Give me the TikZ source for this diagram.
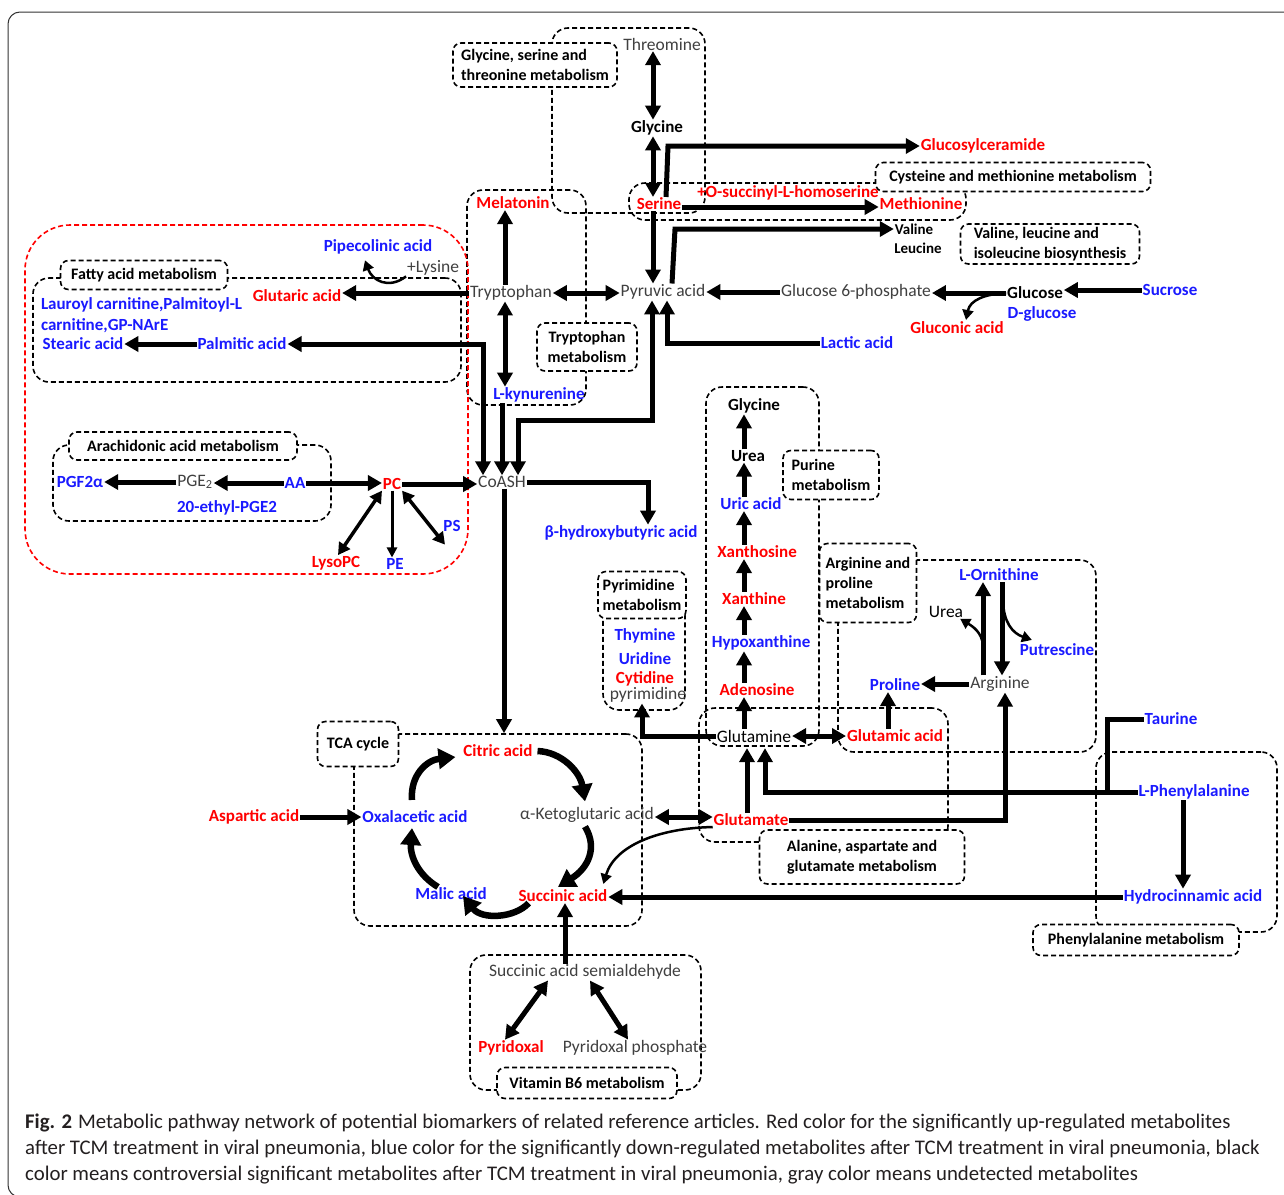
\documentclass[tikz,border=0pt]{standalone}
\usepackage{fontspec}
\setmainfont{Carlito}
\usetikzlibrary{arrows.meta,fit}
\definecolor{cred}{RGB}{255,0,0}
\definecolor{cblue}{RGB}{26,26,255}
\definecolor{cgray}{RGB}{64,64,64}
\definecolor{ccap}{RGB}{35,31,32}
\newcommand{\fsz}[2]{\fontsize{#1}{#2}\selectfont}
\tikzset{
  base/.style={inner sep=1pt, outer sep=0pt},
  R/.style={base, font=\fsz{17}{20}\bfseries, text=cred},
  B/.style={base, font=\fsz{17}{20}\bfseries, text=cblue},
  K/.style={base, font=\fsz{17}{20}\bfseries, text=black},
  Kn/.style={base, font=\fsz{17.5}{20}, text=black},
  G/.style={base, font=\fsz{17.5}{20}, text=cgray},
  Ks/.style={base, font=\fsz{15}{18}\bfseries, text=black},
  reg/.style={draw, line width=1.6pt, dash pattern=on 5pt off 3pt, rounded corners=16pt, inner sep=0pt},
  tag/.style={draw, fill=white, line width=1.6pt, dash pattern=on 5pt off 3pt, rounded corners=8pt, inner sep=2pt, font=\fsz{16}{20}\bfseries, align=left},
  arr/.style={line width=5pt, -{Triangle[length=14pt,width=15pt]}},
  darr/.style={line width=5pt, {Triangle[length=14pt,width=15pt]}-{Triangle[length=14pt,width=15pt]}},
  marr/.style={line width=3.5pt, {Triangle[length=12pt,width=13pt]}-{Triangle[length=12pt,width=13pt]}},
  tarr/.style={line width=2.5pt, -{Triangle[length=10pt,width=11pt]}},
  carr/.style={line width=6.5pt, -{Triangle[length=17pt,width=20pt]}},
  plain/.style={line width=5pt},
}
\begin{document}
\begin{tikzpicture}[x=1pt,y=-1pt]
\useasboundingbox (0,0) rectangle (1284,1194);
\fill[white] (0,0) rectangle (1284,1194);
% figure frame
\draw[line width=1pt, black!80, rounded corners=12pt] (8,12) rectangle (1300,1197);

% ---------- regions ----------
\node[reg, fit={(552,28) (705,213)}] (rGly) {};
\node[reg, fit={(629,183) (966,220)}] (rSer) {};
\node[reg, fit={(467,190) (586,405)}] (rTrp) {};
\node[reg, fit={(33,278) (461,382)}] (rFat) {};
\node[reg, fit={(53,445) (331,521)}] (rAra) {};
\node[reg, draw=cred, rounded corners=45pt, fit={(25,225) (468,574)}] (rRed) {};
\node[reg, fit={(706,387) (819,746)}] (rPur) {};
\node[reg, fit={(603,600) (685,710)}] (rPyr) {};
\node[reg, fit={(838,560) (1096,752)}] (rArg) {};
\node[reg, fit={(699,708) (948,842)}] (rAla) {};
\node[reg, fit={(354,734) (642,926)}] (rTCA) {};
\node[reg, fit={(1096,752) (1277,932)}] (rPhe) {};
\node[reg, fit={(470,955) (701,1090)}] (rB6) {};

% ---------- tags ----------
\node[tag, minimum width=164pt, minimum height=44pt] (tGly) at (535,65) {Glycine, serine and\\threonine metabolism};
\node[tag, minimum width=275pt, minimum height=29pt] (tCys) at (1013,177) {Cysteine and methionine metabolism};
\node[tag, minimum width=179pt, minimum height=40pt] (tVal) at (1050,244) {Valine, leucine and\\isoleucine biosynthesis};
\node[tag, align=center, minimum width=100pt, minimum height=48pt] (tTrp) at (587,347) {Tryptophan\\metabolism};
\node[tag, minimum width=167pt, minimum height=29pt] (tFat) at (144,275) {Fatty acid metabolism};
\node[tag, minimum width=228pt, minimum height=28pt] (tAra) at (183,446) {Arachidonic acid metabolism};
\node[tag, minimum width=96pt, minimum height=49pt] (tPur) at (831,475) {Purine\\metabolism};
\node[tag, minimum width=88pt, minimum height=47pt] (tPyr) at (642,595) {Pyrimidine\\metabolism};
\node[tag, minimum width=97pt, minimum height=79pt] (tArg) at (868,583) {Arginine and\\proline\\metabolism};
\node[tag, minimum width=81pt, minimum height=45pt] (tTCA) at (358,744) {TCA cycle};
\node[tag, align=center, minimum width=205pt, minimum height=54pt] (tAla) at (862,857) {Alanine, aspartate and\\glutamate metabolism};
\node[tag, minimum width=206pt, minimum height=31pt] (tPhe) at (1136,940) {Phenylalanine metabolism};
\node[tag, minimum width=180pt, minimum height=31pt] (tB6) at (587,1083) {Vitamin B6 metabolism};

% ---------- metabolites ----------
\node[G] (thr) at (662,44) {Threomine};
\node[K] (glyT) at (657,128) {Glycine};
\node[R] (ser) at (659,204) {Serine};
\node[R] (gcer) at (983,146) {Glucosylceramide};
\node[R] (osh) at (788,193) {+O-succinyl-L-homoserine};
\node[R] (met) at (921,204) {Methionine};
\node[Ks] (val) at (914,229) {Valine};
\node[Ks] (leu) at (918,248) {Leucine};
\node[G] (pyr) at (663,292) {Pyruvic acid};
\node[G] (g6p) at (856,292) {Glucose 6-phosphate};
\node[K] (glc) at (1035,293) {Glucose};
\node[B] (dglc) at (1042,314) {D-glucose};
\node[R] (glcn) at (957,328) {Gluconic acid};
\node[B] (suc) at (1170,290) {Sucrose};
\node[B] (lac) at (857,343) {Lactic acid};
\node[R] (mel) at (513,203) {Melatonin};
\node[G] (trp) at (511,293) {Tryptophan};
\node[B] (kyn) at (539,395) {L-kynurenine};
\node[G] (coa) at (502,482) {CoASH};
\node[B] (pip) at (378,247) {Pipecolinic acid};
\node[G] (lys) at (433,268) {+Lysine};
\node[R] (glut) at (297,296) {Glutaric acid};
\node[B, anchor=north west, align=left, font=\fsz{17}{21}\bfseries] (laur) at (40,297) {Lauroyl carnitine,Palmitoyl-L\\carnitine,GP-NArE};
\node[B] (stear) at (83,344) {Stearic acid};
\node[B] (palm) at (242,344) {Palmitic acid};
\node[B] (pgf) at (80,482) {PGF2α};
\node[G] (pge) at (195,482) {PGE\textsubscript{2}};
\node[B] (aa) at (295,483) {AA};
\node[B] (ethyl) at (227,508) {20-ethyl-PGE2};
\node[R] (pc) at (392,484) {PC};
\node[R] (lyso) at (336,563) {LysoPC};
\node[B] (pe) at (395,564) {PE};
\node[B] (ps) at (452,526) {PS};
\node[B] (bhb) at (621,533) {β-hydroxybutyric acid};
\node[K] (glyP) at (754,406) {Glycine};
\node[K] (ureaP) at (748,456) {Urea};
\node[B] (uric) at (751,504) {Uric acid};
\node[R] (xtsn) at (757,552) {Xanthosine};
\node[R] (xan) at (754,599) {Xanthine};
\node[B] (hyp) at (761,643) {Hypoxanthine};
\node[R] (ade) at (757,690) {Adenosine};
\node[Kn] (gln) at (754,736) {Glutamine};
\node[B] (thy) at (645,636) {Thymine};
\node[B] (uri) at (645,659) {Uridine};
\node[R] (cyt) at (645,679) {Cytidine};
\node[G] (pyrim) at (648,695) {pyrimidine};
\node[B] (orn) at (999,575) {L-Ornithine};
\node[Kn] (ureaA) at (946,612) {Urea};
\node[B] (put) at (1057,650) {Putrescine};
\node[G] (arg) at (1000,684) {Arginine};
\node[B] (pro) at (895,685) {Proline};
\node[R] (glu) at (895,736) {Glutamic acid};
\node[R] (cit) at (498,751) {Citric acid};
\node[G] (akg) at (587,815) {α-Ketoglutaric acid};
\node[R] (succ) at (563,896) {Succinic acid};
\node[B] (mal) at (451,894) {Malic acid};
\node[B] (oaa) at (415,817) {Oxalacetic acid};
\node[R] (asp) at (254,817) {Aspartic acid};
\node[R] (glm) at (751,820) {Glutamate};
\node[B] (tau) at (1171,719) {Taurine};
\node[B] (phe) at (1194,792) {L-Phenylalanine};
\node[B] (hcin) at (1193,897) {Hydrocinnamic acid};
\node[G] (ssa) at (585,972) {Succinic acid semialdehyde};
\node[R] (pyx) at (511,1048) {Pyridoxal};
\node[G] (pxp) at (635,1048) {Pyridoxal phosphate};

\coordinate (colS) at (653,0);
\coordinate (colP) at (744,0);
\coordinate (cPy) at (0,420);

% ---------- connectors ----------
\draw[darr] (thr.south -| colS) -- (glyT.north -| colS);
\draw[darr] (glyT.south -| colS) -- (ser.north -| colS);
\draw[arr] (ser.south -| colS) -- (pyr.north -| colS);
\draw[arr] ([xshift=7pt]ser.north) -- ([xshift=9pt]ser.north |- gcer.west) -- (gcer.west);
\draw[arr] ([yshift=-3pt]ser.east) -- ([yshift=-3pt]met.west);
\draw[arr] ([xshift=9pt]pyr.north) -- ([xshift=12pt]pyr.north |- val.west) -- (val.west);
\draw[darr] (trp.east) -- (trp.east -| pyr.west);
\draw[arr] (g6p.west) -- (g6p.west -| pyr.east);
\draw[arr] (glc.west) -- (glc.west -| g6p.east);
\draw[arr] (suc.west) -- (suc.west -| glc.east);
\draw[tarr] (glc.west) .. controls (985,294) and (970,300) .. ([xshift=9pt,yshift=1pt]glcn.north);
\draw[arr] (lac.west) -| ([xshift=4pt]pyr.south);
\draw[arr] ([xshift=-6pt]trp.north) -- ([xshift=-8pt]mel.south);
\draw[darr] ([xshift=-6pt]trp.south) -- ([xshift=-34pt]kyn.north);
\draw[arr] (trp.west) -- (trp.west -| glut.east);
\draw[tarr] (lys.south west) .. controls (388,290) and (372,280) .. ([xshift=-13pt,yshift=-5pt]pip.south);
\draw[arr] (palm.west) -- (stear.east);
\draw[darr] (palm.east) -| ([xshift=-19pt]coa.north);
\draw[arr] ([xshift=-37pt]kyn.south) -- (coa.north);
\draw[darr] ([xshift=-11pt]pyr.south) -- ([xshift=-11pt]pyr.south |- cPy) -| ([xshift=16pt]coa.north);
\draw[arr] (pc.east) -- (pc.east -| coa.west);
\draw[arr] (aa.east) -- (aa.east -| pc.west);
\draw[arr] (aa.west) -- (aa.west -| pge.east);
\draw[arr] (pge.west) -- (pgf.east);
\draw[marr] (pc.south west) -- ([xshift=2pt]lyso.north);
\draw[line width=3pt, -{Triangle[length=10pt,width=10pt]}] (pc.south) -- ([xshift=-3pt]pe.north);
\draw[marr] (pc.south east) -- ([xshift=-7pt,yshift=-12pt]ps.south);
\draw[arr] (coa.east) -| ([xshift=27pt]bhb.north);
\draw[arr] ([xshift=2pt]coa.south) -- ([xshift=2pt]coa.south |- rTCA.north);

% TCA cycle
\draw[carr] ([xshift=-3pt,yshift=10pt]oaa.north) .. controls (410,775) and (427,760) .. ([xshift=-7pt,yshift=-6pt]cit.west);
\draw[carr] ([xshift=4pt]cit.east) .. controls (562,752) and (580,772) .. ([xshift=-2pt,yshift=5pt]akg.north);
\draw[carr] ([xshift=-2pt,yshift=-3pt]akg.south) .. controls (598,848) and (588,868) .. ([xshift=-5pt,yshift=2pt]succ.north);
\draw[carr] ([xshift=11pt]succ.south west) .. controls (515,918) and (482,920) .. ([xshift=12pt,yshift=5pt]mal.south);
\draw[carr] ([xshift=-13pt]mal.north) .. controls (418,875) and (410,856) .. ([xshift=-3pt,yshift=-4pt]oaa.south);
\draw[arr] (asp.east) -- (oaa.west);
\draw[darr] ([yshift=-2pt]akg.east) -- ([yshift=-2pt]akg.east -| glm.west);
\draw[tarr] (glm.south west) .. controls (660,828) and (615,845) .. ([xshift=-5pt,yshift=5pt]succ.north east);
\draw[arr] (hcin.west) -- (hcin.west -| succ.east);
\draw[arr] ([xshift=-20pt]ssa.north) -- ([xshift=2pt]succ.south);
\draw[darr] ([xshift=-37pt]ssa.south) -- ([xshift=-6pt]pyx.north);
\draw[darr] ([xshift=5pt]ssa.south) -- ([xshift=-7pt]pxp.north);

% purine column
\draw[arr] (gln.north -| colP) -- (ade.south -| colP);
\draw[arr] (ade.north -| colP) -- (hyp.south -| colP);
\draw[arr] (hyp.north -| colP) -- (xan.south -| colP);
\draw[arr] (xan.north -| colP) -- (xtsn.south -| colP);
\draw[arr] (xtsn.north -| colP) -- (uric.south -| colP);
\draw[arr] (uric.north -| colP) -- (ureaP.south -| colP);
\draw[arr] (ureaP.north -| colP) -- (glyP.south -| colP);

% arginine / glutamate
\draw[darr] (gln.east) -- (gln.east -| glu.west);
\draw[arr] ([xshift=-7pt]glu.north) -- ([xshift=-7pt]pro.south);
\draw[arr] (arg.west) -- (arg.west -| pro.east);
\draw[arr] ([xshift=-17pt]arg.north) -- ([xshift=-16pt]orn.south);
\draw[arr] ([xshift=3pt]orn.south) -- ([xshift=2pt]arg.north);
\draw[tarr] ([xshift=-17pt,yshift=30pt]arg.north) .. controls (982,632) and (972,626) .. ([xshift=-4pt]ureaA.south east);
\draw[tarr] ([xshift=4pt,yshift=-20pt]orn.south) .. controls (1004,622) and (1012,633) .. ([xshift=13pt,yshift=3pt]put.north west);
\draw[arr] (glm.east) -| ([xshift=5pt]arg.south);
\draw[arr] (phe.west) -| ([xshift=11pt,yshift=-5pt]gln.south);
\draw[arr] ([xshift=-4pt]glm.north) -- ([xshift=-7pt,yshift=-5pt]gln.south);
\draw[plain] ([xshift=-30pt]phe.west) |- (tau.west);
\draw[arr] ([xshift=-11pt]phe.south) -- ([xshift=-10pt]hcin.north);
\draw[arr] (gln.west) -| ([xshift=-6pt]pyrim.south);

% caption
\node[anchor=north west, inner sep=0pt, align=left, font=\fsz{20.8}{26}, text=ccap] (cap) at (25,1114)
 {\textbf{Fig. 2}\hspace{6pt}Metabolic pathway network of potential biomarkers of related reference articles. Red color for the significantly up-regulated metabolites\\
 after TCM treatment in viral pneumonia, blue color for the significantly down-regulated metabolites after TCM treatment in viral pneumonia, black\\
 color means controversial significant metabolites after TCM treatment in viral pneumonia, gray color means undetected metabolites};
\end{tikzpicture}
\end{document}
